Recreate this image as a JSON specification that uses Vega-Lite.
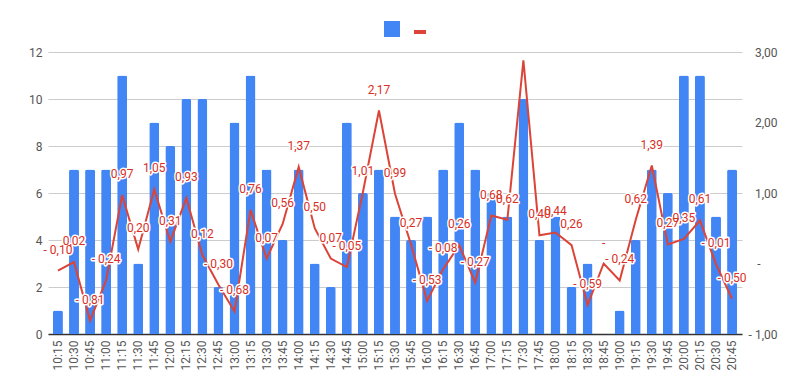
{
  "$schema": "https://vega.github.io/schema/vega-lite/v6.json",
  "autosize": "none",
  "width": 694,
  "height": 282,
  "padding": {"left": 48, "top": 52, "right": 66, "bottom": 58},
  "background": "white",
  "config": {
    "view": {"stroke": null},
    "font": "Roboto",
    "axis": {"labelFont": "Roboto", "labelFontSize": 12, "labelColor": "#555555", "titleFont": "Roboto"}
  },
  "data": {"values": [
    {"t": "10:15", "n": 1, "v": -0.10},
    {"t": "10:30", "n": 7, "v": 0.02},
    {"t": "10:45", "n": 7, "v": -0.81},
    {"t": "11:00", "n": 7, "v": -0.24},
    {"t": "11:15", "n": 11, "v": 0.97},
    {"t": "11:30", "n": 3, "v": 0.20},
    {"t": "11:45", "n": 9, "v": 1.05},
    {"t": "12:00", "n": 8, "v": 0.31},
    {"t": "12:15", "n": 10, "v": 0.93},
    {"t": "12:30", "n": 10, "v": 0.12},
    {"t": "12:45", "n": 2, "v": -0.30},
    {"t": "13:00", "n": 9, "v": -0.68},
    {"t": "13:15", "n": 11, "v": 0.76},
    {"t": "13:30", "n": 7, "v": 0.07},
    {"t": "13:45", "n": 4, "v": 0.56},
    {"t": "14:00", "n": 7, "v": 1.37},
    {"t": "14:15", "n": 3, "v": 0.50},
    {"t": "14:30", "n": 2, "v": 0.07},
    {"t": "14:45", "n": 9, "v": -0.05},
    {"t": "15:00", "n": 6, "v": 1.01},
    {"t": "15:15", "n": 7, "v": 2.17},
    {"t": "15:30", "n": 5, "v": 0.99},
    {"t": "15:45", "n": 4, "v": 0.27},
    {"t": "16:00", "n": 5, "v": -0.53},
    {"t": "16:15", "n": 7, "v": -0.08},
    {"t": "16:30", "n": 9, "v": 0.26},
    {"t": "16:45", "n": 7, "v": -0.27},
    {"t": "17:00", "n": 6, "v": 0.68},
    {"t": "17:15", "n": 5, "v": 0.62},
    {"t": "17:30", "n": 10, "v": 2.88},
    {"t": "17:45", "n": 4, "v": 0.40},
    {"t": "18:00", "n": 5, "v": 0.44},
    {"t": "18:15", "n": 2, "v": 0.26},
    {"t": "18:30", "n": 3, "v": -0.59},
    {"t": "18:45", "n": 0, "v": 0.00},
    {"t": "19:00", "n": 1, "v": -0.24},
    {"t": "19:15", "n": 4, "v": 0.62},
    {"t": "19:30", "n": 7, "v": 1.39},
    {"t": "19:45", "n": 6, "v": 0.27},
    {"t": "20:00", "n": 11, "v": 0.35},
    {"t": "20:15", "n": 11, "v": 0.61},
    {"t": "20:30", "n": 5, "v": -0.01},
    {"t": "20:45", "n": 7, "v": -0.50}
  ]},
  "encoding": {
    "x": {
      "field": "t", "type": "ordinal", "sort": null,
      "scale": {"paddingInner": 0.38, "paddingOuter": 0.31},
      "axis": {"title": null, "labelAngle": -90, "ticks": false, "domainColor": "#333333", "domainWidth": 1.5, "labelPadding": 6, "labelFontSize": 12}
    }
  },
  "layer": [
    {
      "mark": {"type": "bar", "cornerRadiusTopLeft": 2, "cornerRadiusTopRight": 2},
      "encoding": {
        "y": {
          "field": "n", "type": "quantitative",
          "scale": {"domain": [0, 12], "nice": false},
          "axis": {"title": null, "values": [0, 2, 4, 6, 8, 10, 12], "domain": false, "ticks": false, "gridColor": "#cccccc", "labelPadding": 6}
        },
        "color": {
          "datum": "bar", "type": "nominal",
          "scale": {"domain": ["bar", "line"], "range": ["#4285F4", "#DB4437"]},
          "legend": {
            "orient": "none", "legendX": 336, "legendY": -31, "direction": "horizontal",
            "title": null, "labelExpr": "''", "labelOffset": 0, "columnPadding": 0,
            "symbolSize": 144,
            "encode": {"symbols": {"update": {
              "shape": {"signal": "datum.value === 'line' ? 'stroke' : 'square'"},
              "fill": {"signal": "datum.value === 'line' ? 'transparent' : '#4285F4'"},
              "stroke": {"signal": "datum.value === 'line' ? '#DB4437' : 'transparent'"},
              "strokeWidth": {"value": 4},
              "opacity": {"value": 1}
            }}}
          }
        }
      }
    },
    {
      "layer": [
        {
          "mark": {"type": "line", "strokeWidth": 2, "interpolate": "linear"},
          "encoding": {
            "color": {"datum": "line", "type": "nominal"}
          }
        },
        {
          "transform": [
            {"filter": "datum.t !== '17:30'"},
            {"calculate": "datum.v === 0 ? '-' : (datum.v < 0 ? '- ' : '') + replace(format(abs(datum.v), '.2f'), '.', ',')", "as": "lbl"}
          ],
          "mark": {"type": "text", "dy": -21, "fontSize": 12, "font": "Roboto", "stroke": "white", "strokeWidth": 3, "strokeJoin": "round", "fill": "white"},
          "encoding": {"text": {"field": "lbl"}}
        },
        {
          "transform": [
            {"filter": "datum.t !== '17:30'"},
            {"calculate": "datum.v === 0 ? '-' : (datum.v < 0 ? '- ' : '') + replace(format(abs(datum.v), '.2f'), '.', ',')", "as": "lbl"}
          ],
          "mark": {"type": "text", "dy": -21, "fontSize": 12, "font": "Roboto", "fill": "#D93025"},
          "encoding": {"text": {"field": "lbl"}}
        }
      ],
      "encoding": {
        "y": {
          "field": "v", "type": "quantitative",
          "scale": {"domain": [-1, 3], "nice": false},
          "axis": {
            "orient": "right", "title": null, "grid": false, "domain": false, "ticks": false,
            "values": [-1, 0, 1, 2, 3],
            "labelAlign": "right",
            "labelPadding": {"condition": {"test": "datum.value === 0", "value": 18}, "value": 35},
            "labelExpr": "datum.value === 0 ? '-' : (datum.value < 0 ? '- ' : '') + replace(format(abs(datum.value), '.2f'), '.', ',')"
          }
        }
      }
    }
  ],
  "resolve": {"scale": {"y": "independent"}}
}
